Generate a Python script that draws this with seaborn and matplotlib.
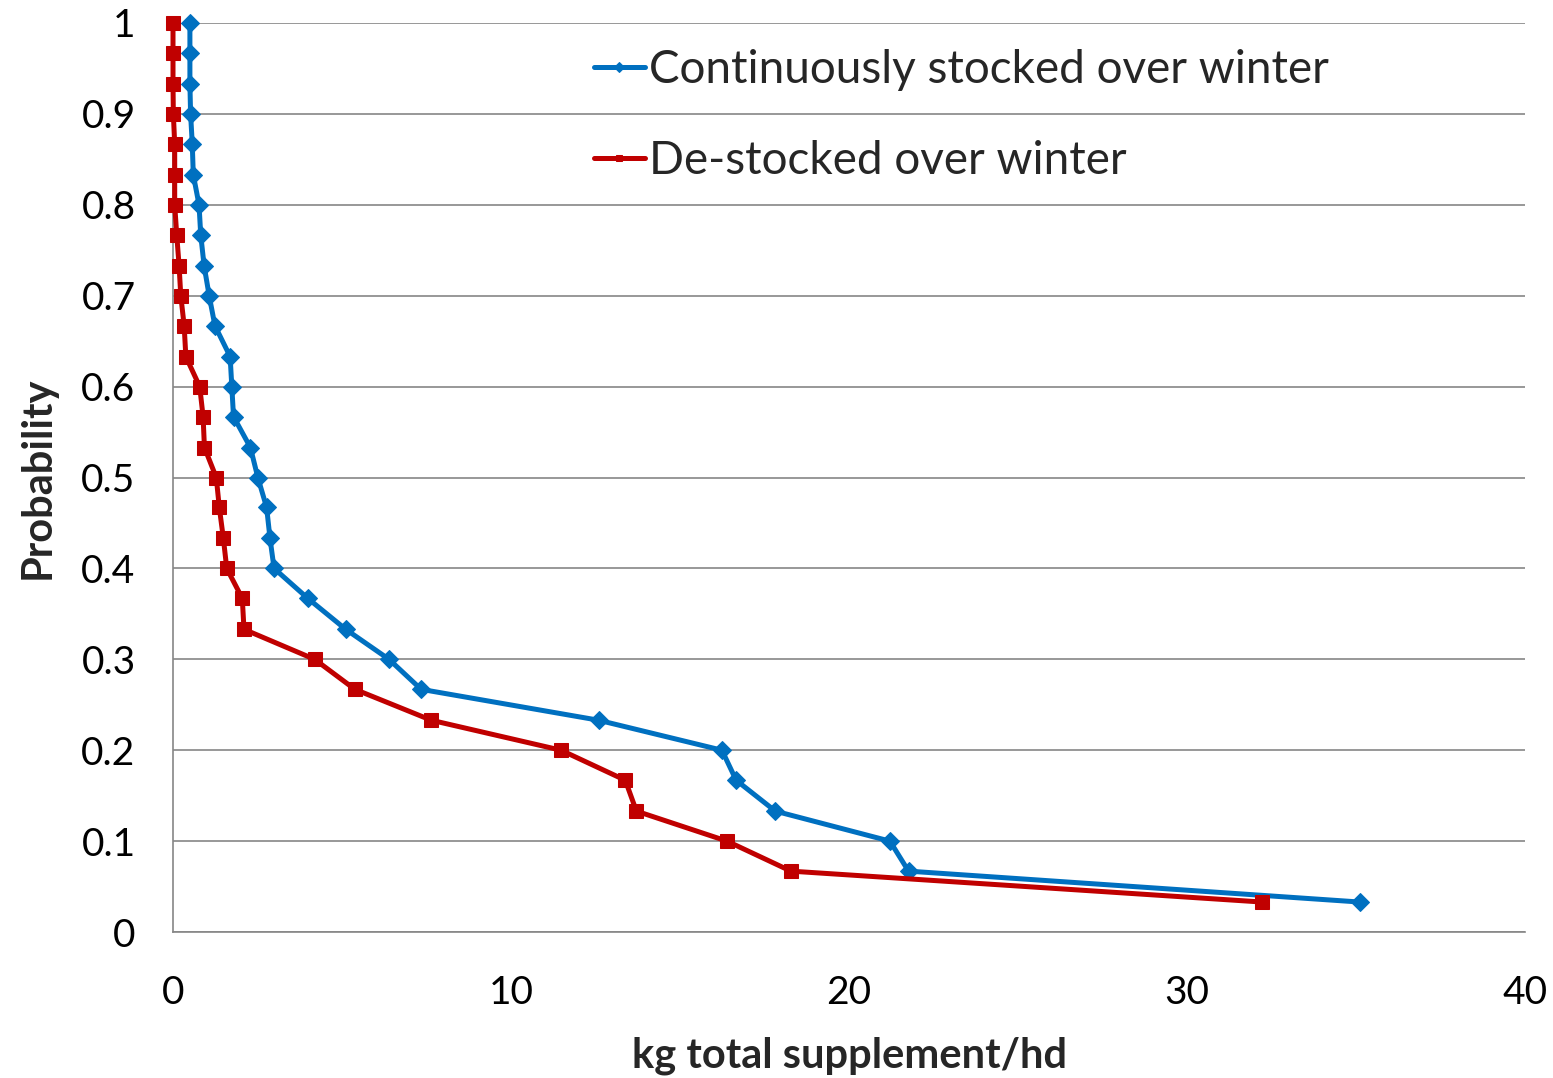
import numpy as np
import pandas as pd
import matplotlib
matplotlib.use("Agg")
import matplotlib.pyplot as plt
from matplotlib.ticker import FuncFormatter
import seaborn as sns

# probability levels (exceedance), 30 years of simulated outcomes
prob = [1.0, 0.967, 0.933, 0.9, 0.867, 0.833, 0.8, 0.767, 0.733, 0.7,
        0.667, 0.633, 0.6, 0.567, 0.533, 0.5, 0.467, 0.433, 0.4, 0.367,
        0.333, 0.3, 0.267, 0.233, 0.2, 0.167, 0.133, 0.1, 0.067, 0.033]

continuous = [0.50, 0.50, 0.50, 0.52, 0.57, 0.60, 0.77, 0.82, 0.92, 1.07,
              1.24, 1.69, 1.74, 1.79, 2.29, 2.51, 2.77, 2.87, 2.99, 3.99,
              5.11, 6.39, 7.34, 12.59, 16.24, 16.66, 17.82, 21.21, 21.76, 35.11]

destocked = [0.0, 0.0, 0.0, 0.01, 0.05, 0.05, 0.05, 0.11, 0.18, 0.23,
             0.33, 0.38, 0.79, 0.89, 0.93, 1.28, 1.37, 1.49, 1.59, 2.05,
             2.10, 4.19, 5.38, 7.64, 11.48, 13.38, 13.71, 16.39, 18.28, 32.22]

labels = ["Continuously stocked over winter", "De-stocked over winter"]

df_c = pd.DataFrame({"kg": continuous, "p": prob})
df_d = pd.DataFrame({"kg": destocked, "p": prob})

sns.set_style("white")
plt.rcParams["font.family"] = ["Lato", "DejaVu Sans"]

fig = plt.figure(figsize=(15.53, 10.78), dpi=100)
ax = fig.add_axes([0.1114, 0.1354, 0.8706, 0.8433])

sns.lineplot(data=df_c, x="kg", y="p", ax=ax, sort=False, estimator=None,
             color="#0070C0", lw=3.6, marker="D", markersize=9, mec="#0070C0",
             label=labels[0], zorder=3, clip_on=False)
sns.lineplot(data=df_d, x="kg", y="p", ax=ax, sort=False, estimator=None,
             color="#C00000", lw=3.6, marker="s", markersize=9.5, mec="#C00000",
             label=labels[1], zorder=3, clip_on=False)

ax.set_xlim(0, 40)
ax.set_ylim(0, 1)
ax.set_xticks([0, 10, 20, 30, 40])
ax.set_yticks(np.arange(0, 1.01, 0.1))
ax.yaxis.set_major_formatter(FuncFormatter(lambda v, pos: f"{v:.1f}".rstrip("0").rstrip(".") if v else "0"))

ax.yaxis.grid(True, color="#868686", lw=1.2)
ax.xaxis.grid(False)
ax.set_axisbelow(True)

for s in ["top", "right"]:
    ax.spines[s].set_visible(False)
for s in ["left", "bottom"]:
    ax.spines[s].set_color("#868686")
    ax.spines[s].set_linewidth(1.2)

ax.tick_params(axis="both", direction="out", length=10, width=1.2, color="#868686",
               labelsize=28, pad=17, labelcolor="black")
ax.tick_params(axis="x", pad=21)

ax.set_xlabel("kg total supplement/hd", fontsize=30, fontweight="bold", labelpad=18)
ax.set_ylabel("Probability", fontsize=30, fontweight="bold", labelpad=18)

leg = ax.legend(loc="upper left", bbox_to_anchor=(0.298, 0.992), frameon=False,
                fontsize=33, handlelength=1.1, handletextpad=0.1, labelspacing=1.07,
                borderaxespad=0)
for h in leg.legend_handles:
    h.set_markersize(5)

fig.savefig("out.png", dpi=100)
